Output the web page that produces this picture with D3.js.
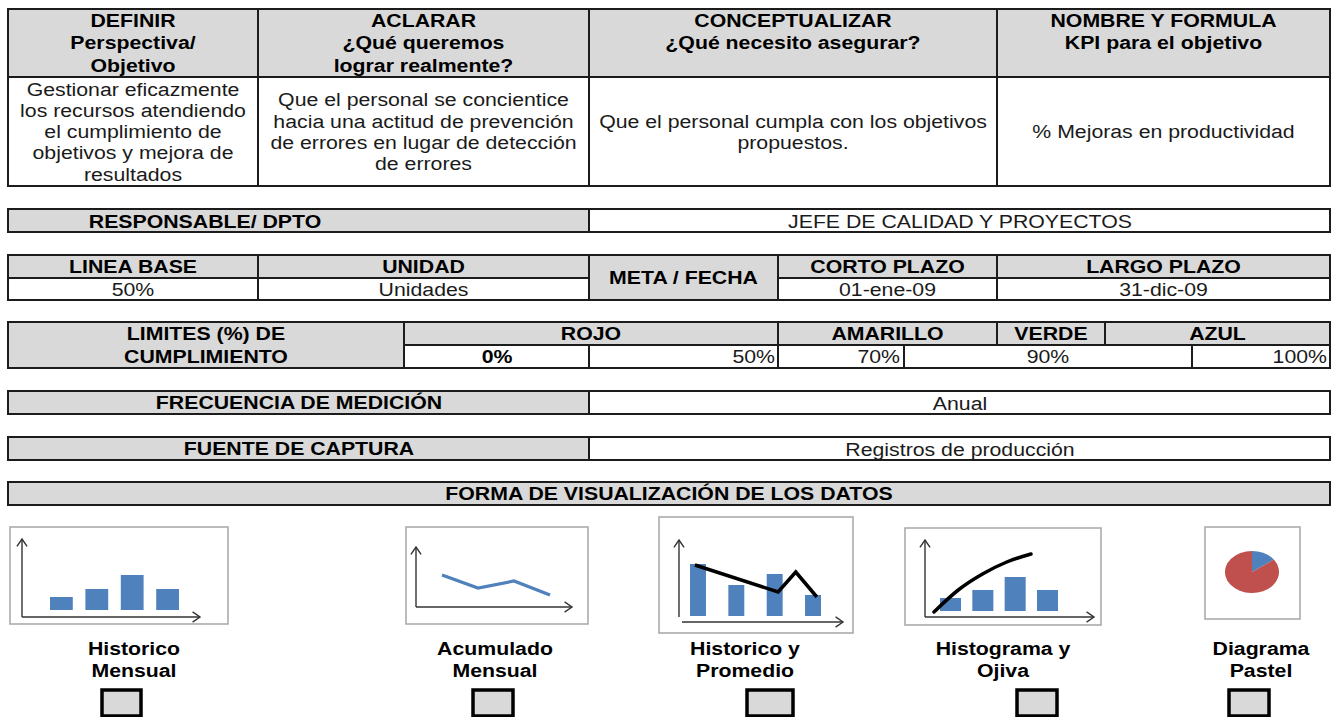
<!DOCTYPE html>
<html><head><meta charset="utf-8">
<script src="https://cdn.jsdelivr.net/npm/d3@7"></script>
<style>body{margin:0;background:#fff}svg{display:block}</style>
</head><body>
<svg id="c" width="1331" height="717"></svg>
<script>
// ---------- DATA ----------
const headerTitles = [["DEFINIR","Perspectiva/","Objetivo"],["ACLARAR","¿Qué queremos","lograr realmente?"],["CONCEPTUALIZAR","¿Qué necesito asegurar?"],["NOMBRE Y FORMULA","KPI para el objetivo"]];
const headerBodies = [["Gestionar eficazmente","los recursos atendiendo","el cumplimiento de","objetivos y mejora de","resultados"],["Que el personal se concientice","hacia una actitud de prevención","de errores en lugar de detección","de errores"],["Que el personal cumpla con los objetivos","propuestos."],["% Mejoras en productividad"]];
const responsable = ["RESPONSABLE/ DPTO","JEFE DE CALIDAD Y PROYECTOS"];
const metaLabels = ["LINEA BASE","UNIDAD","META / FECHA","CORTO PLAZO","LARGO PLAZO"];
const metaValues = ["50%","Unidades","01-ene-09","31-dic-09"];
const limiteLabel = ["LIMITES (%) DE","CUMPLIMIENTO"];
const limiteColors = ["ROJO","AMARILLO","VERDE","AZUL"];
const limiteValues = ["0%","50%","70%","90%","100%"];
const frecuencia = ["FRECUENCIA DE MEDICIÓN","Anual"];
const fuente = ["FUENTE DE CAPTURA","Registros de producción"];
const formaTitle = "FORMA DE VISUALIZACIÓN DE LOS DATOS";
const vizNames = [["Historico","Mensual"],["Acumulado","Mensual"],["Historico y","Promedio"],["Histograma y","Ojiva"],["Diagrama","Pastel"]];
const periods = ["P1","P2","P3","P4"];
const historicoMensual = [13,21,35,21];
const acumuladoMensual = [32,19,26,12];
const historicoPromedioBars = [52,31,42,21];
const promedioX = [-0.08,2.09,2.55,3.1];
const promedioY = [51,24,44,19];
const histogramaBars = [13,21,34,21];
const ojivaX = [0,1,2,3,4];
const ojivaY = [0,22,38,50,58];
const pastel = [15,85];

// ---------- STYLE / LAYOUT ----------
const FONT = "'Liberation Sans', Arial, sans-serif";
const GRAY = "#D9D9D9", WHITE = "#ffffff", LINE = "#1c1c1c", BLUE = "#4F81BD", RED = "#C0504D";
const FS = 19, SX = 1.12;
const svg = d3.select("#c");

function cell(x0,y0,x1,y1,fill){
  svg.append("rect").attr("x",x0).attr("y",y0).attr("width",x1-x0).attr("height",y1-y0)
    .attr("fill",fill).attr("stroke",LINE).attr("stroke-width",2);
}
function txt(x,y,s,o={}){
  svg.append("text").attr("transform",`translate(${x},${y}) scale(${o.sx||SX},1)`)
    .attr("text-anchor",o.anchor||"middle").attr("dy","0.35em")
    .attr("font-family",FONT).attr("font-size",o.size||FS)
    .attr("font-weight",o.bold?"bold":"normal").attr("fill",o.color||(o.bold?"#000":"#1a1a1a")).text(s);
}

// Top table
const cols = [8,258,589,997,1330];
headerTitles.forEach((lines,i)=>{
  cell(cols[i],9,cols[i+1],77,GRAY);
  cell(cols[i],77,cols[i+1],186,WHITE);
  const cx=(cols[i]+cols[i+1])/2;
  lines.forEach((l,k)=>txt(cx,20+k*22.5,l,{bold:true}));
  const body=headerBodies[i], n=body.length;
  body.forEach((l,k)=>txt(cx,131.5+(k-(n-1)/2)*21.25,l));
});

// Responsable
cell(8,209,589,232,GRAY); cell(589,209,1330,232,WHITE);
txt(205,221,responsable[0],{bold:true}); txt(960,221,responsable[1]);

// Meta block
const mX=[8,258,589,778,997,1330];
[0,1,3,4].forEach(i=>cell(mX[i],255,mX[i+1],278,GRAY));
cell(589,255,778,300,GRAY);
const valIdx=[0,1,3,4];
valIdx.forEach((i,j)=>{
  cell(mX[i],278,mX[i+1],300,WHITE);
  txt((mX[i]+mX[i+1])/2,289.5,metaValues[j]);
});
metaLabels.forEach((l,i)=>{
  txt((mX[i]+mX[i+1])/2, i===2?277.5:266.5, l,{bold:true});
});

// Limites block
cell(8,322,404,368,GRAY);
txt(206,333.5,limiteLabel[0],{bold:true}); txt(206,356.5,limiteLabel[1],{bold:true});
const lcX=[404,778,997,1105,1330];
limiteColors.forEach((l,i)=>{ cell(lcX[i],322,lcX[i+1],345,GRAY); txt((lcX[i]+lcX[i+1])/2,333.5,l,{bold:true}); });
const lvX=[404,589,778,904,1192,1330];
for(let i=0;i<5;i++) cell(lvX[i],345,lvX[i+1],368,WHITE);
txt(497,356.5,limiteValues[0],{bold:true});
txt(775,356.5,limiteValues[1],{anchor:"end"});
txt(900,356.5,limiteValues[2],{anchor:"end"});
txt(1048,356.5,limiteValues[3]);
txt(1327,356.5,limiteValues[4],{anchor:"end"});

// Frecuencia / Fuente
[[frecuencia,391],[fuente,437]].forEach(([d,y])=>{
  cell(8,y,589,y+23,GRAY); cell(589,y,1330,y+23,WHITE);
  txt(299,y+11.5,d[0],{bold:true}); txt(960,y+12,d[1]);
});
cell(8,482,1330,505,GRAY);
txt(669,493.5,formaTitle,{bold:true});

// Thumbnail frames
const frames=[[10,527,228,624],[406,527,588,624],[659,517,853,633],[905,528,1101,625],[1205,527,1300,619]];
frames.forEach(f=>svg.append("rect").attr("x",f[0]).attr("y",f[1]).attr("width",f[2]-f[0]).attr("height",f[3]-f[1])
  .attr("fill","#fff").attr("stroke","#A6A6A6").attr("stroke-width",1.5));

function arrow(x1,y1,x2,y2){
  const g=svg.append("g").attr("stroke","#333").attr("stroke-width",1.4).attr("fill","none");
  g.append("line").attr("x1",x1).attr("y1",y1).attr("x2",x2).attr("y2",y2);
  const a=Math.atan2(y2-y1,x2-x1), L=9, W=0.6;
  const p=[[x2-L*Math.cos(a-W),y2-L*Math.sin(a-W)],[x2,y2],[x2-L*Math.cos(a+W),y2-L*Math.sin(a+W)]];
  g.append("path").attr("d",d3.line()(p));
}
function bars(data,xs,ys){
  svg.append("g").selectAll("rect").data(data).join("rect")
    .attr("x",(d,i)=>xs(periods[i])).attr("y",d=>ys(d))
    .attr("width",xs.bandwidth()).attr("height",d=>ys(0)-ys(d)).attr("fill",BLUE);
}

// Chart 1: Historico Mensual
{
  const xs=d3.scaleBand().domain(periods).range([50,179]).paddingInner(0.356).paddingOuter(0);
  const ys=d3.scaleLinear().domain([0,40]).range([610,570]);
  bars(historicoMensual,xs,ys);
  arrow(22,617,22,539); arrow(22,617,200,617);
}
// Chart 2: Acumulado Mensual
{
  const xs=d3.scalePoint().domain(periods).range([442,550]);
  const ys=d3.scaleLinear().domain([0,40]).range([607,567]);
  svg.append("path").datum(acumuladoMensual)
    .attr("d",d3.line().x((d,i)=>xs(periods[i])).y(d=>ys(d)))
    .attr("fill","none").attr("stroke",BLUE).attr("stroke-width",3.2);
  arrow(416,607,416,547); arrow(416,607,572,607);
}
// Chart 3: Historico y Promedio
{
  const xs=d3.scaleBand().domain(periods).range([690,821]).paddingInner(0.584).paddingOuter(0);
  const ys=d3.scaleLinear().domain([0,60]).range([616,556]);
  bars(historicoPromedioBars,xs,ys);
  const xl=d3.scaleLinear().domain([0,3]).range([xs("P1")+xs.bandwidth()/2, xs("P4")+xs.bandwidth()/2]);
  svg.append("path").datum(promedioX.map((x,i)=>[x,promedioY[i]]))
    .attr("d",d3.line().x(d=>xl(d[0])).y(d=>ys(d[1])))
    .attr("fill","none").attr("stroke","#000").attr("stroke-width",3.5);
  arrow(679,617,679,540); arrow(682,622,843,622);
}
// Chart 4: Histograma y Ojiva
{
  const xs=d3.scaleBand().domain(periods).range([940,1058]).paddingInner(0.35).paddingOuter(0);
  const ys=d3.scaleLinear().domain([0,40]).range([611,571]);
  bars(histogramaBars,xs,ys);
  const xo=d3.scaleLinear().domain([0,4]).range([934,1031]);
  const yo=d3.scaleLinear().domain([0,60]).range([612,552]);
  svg.append("path").datum(ojivaX.map((x,i)=>[x,ojivaY[i]]))
    .attr("d",d3.line().x(d=>xo(d[0])).y(d=>yo(d[1])).curve(d3.curveMonotoneX))
    .attr("fill","none").attr("stroke","#000").attr("stroke-width",3.5).attr("stroke-linecap","round");
  arrow(925,617,925,540); arrow(925,617,1094,617);
}
// Chart 5: Diagrama Pastel
{
  const pie=d3.pie().sort(null)(pastel);
  const arc=d3.arc().innerRadius(0).outerRadius(27);
  svg.append("g").attr("transform","translate(1252,572) scale(1,0.78)")
    .selectAll("path").data(pie).join("path").attr("d",arc).attr("fill",(d,i)=>[BLUE,RED][i]);
}

// Labels and checkboxes
const labelCx=[134,495,745,1003,1261];
const boxes=[[102,39],[473,40],[747,46],[1017,40],[1229,40]];
vizNames.forEach((n,i)=>{
  txt(labelCx[i],648,n[0],{bold:true,color:"#000"});
  txt(labelCx[i],670,n[1],{bold:true,color:"#000"});
  svg.append("rect").attr("x",boxes[i][0]).attr("y",690).attr("width",boxes[i][1]).attr("height",26)
    .attr("fill",GRAY).attr("stroke","#000").attr("stroke-width",3.5);
});
</script>
</body></html>
